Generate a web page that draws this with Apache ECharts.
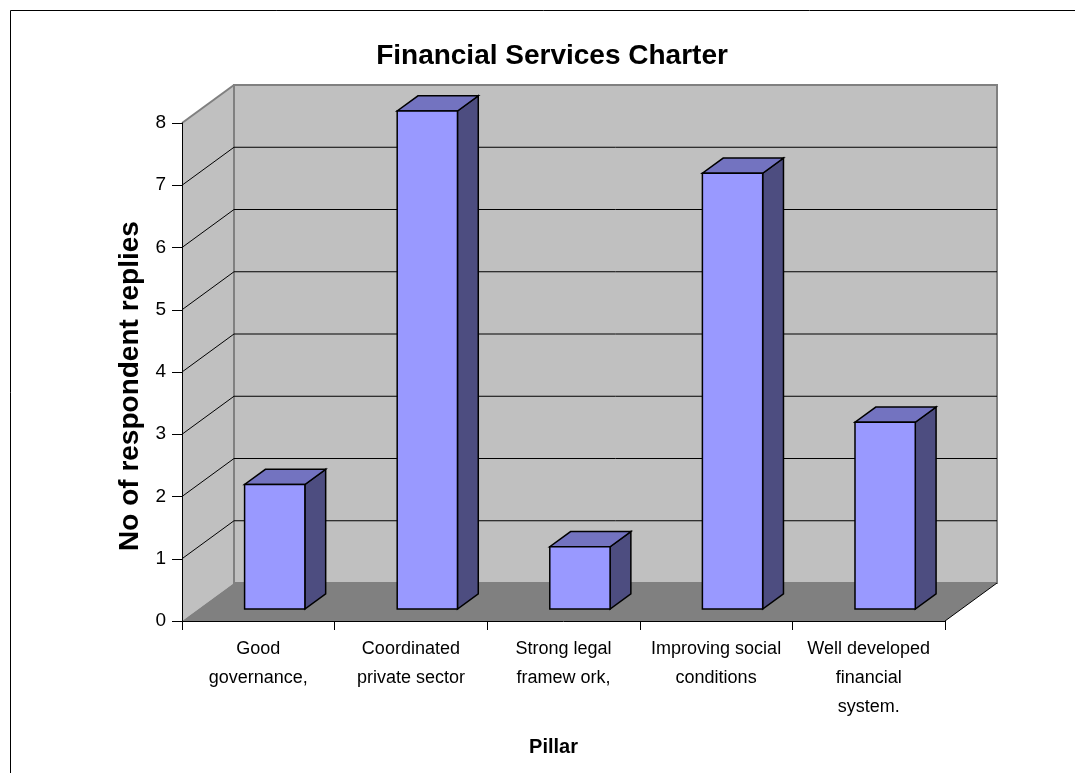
<!DOCTYPE html>
<html>
<head>
<meta charset="utf-8">
<title>Financial Services Charter</title>
<script src="https://cdn.jsdelivr.net/npm/echarts@6/dist/echarts.min.js"></script>
<style>
  html, body { margin: 0; padding: 0; background: #ffffff; }
  #chart { width: 1075px; height: 773px; }
</style>
</head>
<body>
<div id="chart"></div>
<script>
// Survey results per pillar of the Financial Services Charter
var categories = [
  'Good\ngovernance,',
  'Coordinated\nprivate sector',
  'Strong legal\nframew ork,',
  'Improving social\nconditions',
  'Well developed\nfinancial\nsystem.'
];
var replies = [2, 8, 1, 7, 3];
var yTicks = [0, 1, 2, 3, 4, 5, 6, 7, 8];

// Pseudo-3D projection of the plot box (depth of the floor in pixels)
var DEPTH_X = 52;
var DEPTH_Y = -38;
var BAR_FRONT = 0.316;   // where the bar front face sits along the depth
var BAR_DEPTH = 0.40;    // bar thickness along the depth
var BAR_WIDTH = 0.395;   // fraction of a category band

var FONT = 'Arial, "Liberation Sans", Helvetica, sans-serif';

var chart = echarts.init(document.getElementById('chart'), null, { renderer: 'canvas' });

function plotFrame(api) {
  var c0 = api.coord([0, yTicks[0]]);
  var band = api.size([1, 0])[0];
  var left = c0[0] - band / 2;
  return {
    left: left,
    right: left + band * categories.length,
    bottom: c0[1],
    top: api.coord([0, yTicks[yTicks.length - 1]])[1],
    band: band
  };
}

// Side wall, back wall, floor and gridlines
function renderWalls(params, api) {
  var f = plotFrame(api);
  var L = f.left, R = f.right, B = f.bottom, T = f.top;
  var kids = [];
  kids.push({
    type: 'polygon',
    shape: { points: [[L, T], [L + DEPTH_X, T + DEPTH_Y], [L + DEPTH_X, B + DEPTH_Y], [L, B]] },
    style: { fill: '#c0c0c0', stroke: null }
  });
  kids.push({
    type: 'rect',
    shape: { x: L + DEPTH_X, y: T + DEPTH_Y, width: R - L, height: B - T },
    style: { fill: '#c0c0c0', stroke: '#808080', lineWidth: 2 }
  });
  kids.push({
    type: 'line',
    shape: { x1: L, y1: T, x2: L + DEPTH_X, y2: T + DEPTH_Y },
    style: { stroke: '#808080', lineWidth: 2 }
  });
  for (var i = 1; i < yTicks.length - 1; i++) {
    var y = api.coord([0, yTicks[i]])[1];
    kids.push({
      type: 'line',
      shape: { x1: L + DEPTH_X, y1: y + DEPTH_Y, x2: R + DEPTH_X, y2: y + DEPTH_Y },
      style: { stroke: '#000000', lineWidth: 1 }
    });
    kids.push({
      type: 'line',
      shape: { x1: L, y1: y, x2: L + DEPTH_X, y2: y + DEPTH_Y },
      style: { stroke: '#000000', lineWidth: 1 }
    });
  }
  kids.push({
    type: 'polygon',
    shape: { points: [[L, B], [R, B], [R + DEPTH_X, B + DEPTH_Y], [L + DEPTH_X, B + DEPTH_Y]] },
    style: { fill: '#808080', stroke: null }
  });
  kids.push({
    type: 'line',
    shape: { x1: R, y1: B, x2: R + DEPTH_X, y2: B + DEPTH_Y },
    style: { stroke: '#000000', lineWidth: 1 }
  });
  return { type: 'group', children: kids };
}

// One 3D column: front face, right side and top
function renderColumn(params, api) {
  var f = plotFrame(api);
  var idx = api.value(0);
  var val = api.value(1);
  var top = api.coord([idx, val]);
  var base = api.coord([idx, 0]);
  var ox = BAR_FRONT * DEPTH_X, oy = BAR_FRONT * DEPTH_Y;
  var dx = BAR_DEPTH * DEPTH_X, dy = BAR_DEPTH * DEPTH_Y;
  var w = f.band * BAR_WIDTH;
  var xl = top[0] + ox - w / 2, xr = xl + w;
  var yt = top[1] + oy, yb = base[1] + oy;
  var edge = { stroke: '#000000', lineWidth: 1.5, lineJoin: 'miter' };
  return {
    type: 'group',
    children: [
      {
        type: 'polygon',
        shape: { points: [[xr, yt], [xr + dx, yt + dy], [xr + dx, yb + dy], [xr, yb]] },
        style: Object.assign({ fill: '#4d4d80' }, edge)
      },
      {
        type: 'polygon',
        shape: { points: [[xl, yt], [xr, yt], [xr + dx, yt + dy], [xl + dx, yt + dy]] },
        style: Object.assign({ fill: '#7373c0' }, edge)
      },
      {
        type: 'rect',
        shape: { x: xl, y: yt, width: w, height: yb - yt },
        style: Object.assign({ fill: '#9999ff' }, edge)
      }
    ]
  };
}

var option = {
  backgroundColor: '#ffffff',
  animation: false,
  title: {
    text: 'Financial Services Charter',
    left: 547,
    top: 37,
    textAlign: 'center',
    textStyle: { fontFamily: FONT, fontSize: 28, fontWeight: 'bold', color: '#000000' }
  },
  graphic: [{
    type: 'rect',
    shape: { x: 10.5, y: 10.5, width: 1100, height: 800 },
    style: { fill: null, stroke: '#000000', lineWidth: 1 },
    silent: true
  }],
  grid: { left: 182, right: 130, top: 123, bottom: 152 },
  xAxis: {
    type: 'category',
    data: categories,
    boundaryGap: true,
    z: 10,
    name: 'Pillar',
    nameLocation: 'middle',
    nameGap: 116,
    nameTextStyle: { fontFamily: FONT, fontSize: 20, fontWeight: 'bold', color: '#000000', padding: [0, 20, 0, 0] },
    axisLine: { lineStyle: { color: '#000000', width: 1 } },
    axisTick: { show: true, length: 9, alignWithLabel: false, lineStyle: { color: '#000000' } },
    axisLabel: {
      interval: 0,
      margin: 14,
      fontFamily: FONT,
      fontSize: 18,
      lineHeight: 29,
      color: '#000000',
      align: 'center'
    },
    splitLine: { show: false }
  },
  yAxis: {
    type: 'value',
    min: yTicks[0],
    max: yTicks[yTicks.length - 1],
    interval: 1,
    z: 10,
    name: 'No of respondent replies',
    nameLocation: 'middle',
    nameGap: 38,
    nameTextStyle: {
      fontFamily: FONT, fontSize: 28, fontWeight: 'bold', color: '#000000',
      padding: [0, 28, 0, 0]
    },
    axisLine: { show: true, lineStyle: { color: '#000000', width: 1 } },
    axisTick: { show: true, length: 10, lineStyle: { color: '#000000' } },
    axisLabel: { margin: 16, fontFamily: FONT, fontSize: 19, color: '#000000' },
    splitLine: { show: false }
  },
  series: [
    {
      type: 'custom',
      name: 'walls',
      z: 1,
      silent: true,
      renderItem: renderWalls,
      data: [[0, 0]]
    },
    {
      type: 'custom',
      name: 'No of respondent replies',
      z: 2,
      renderItem: renderColumn,
      encode: { x: 0, y: 1 },
      data: replies.map(function (v, i) { return [i, v]; })
    }
  ]
};

chart.setOption(option);
</script>
</body>
</html>
